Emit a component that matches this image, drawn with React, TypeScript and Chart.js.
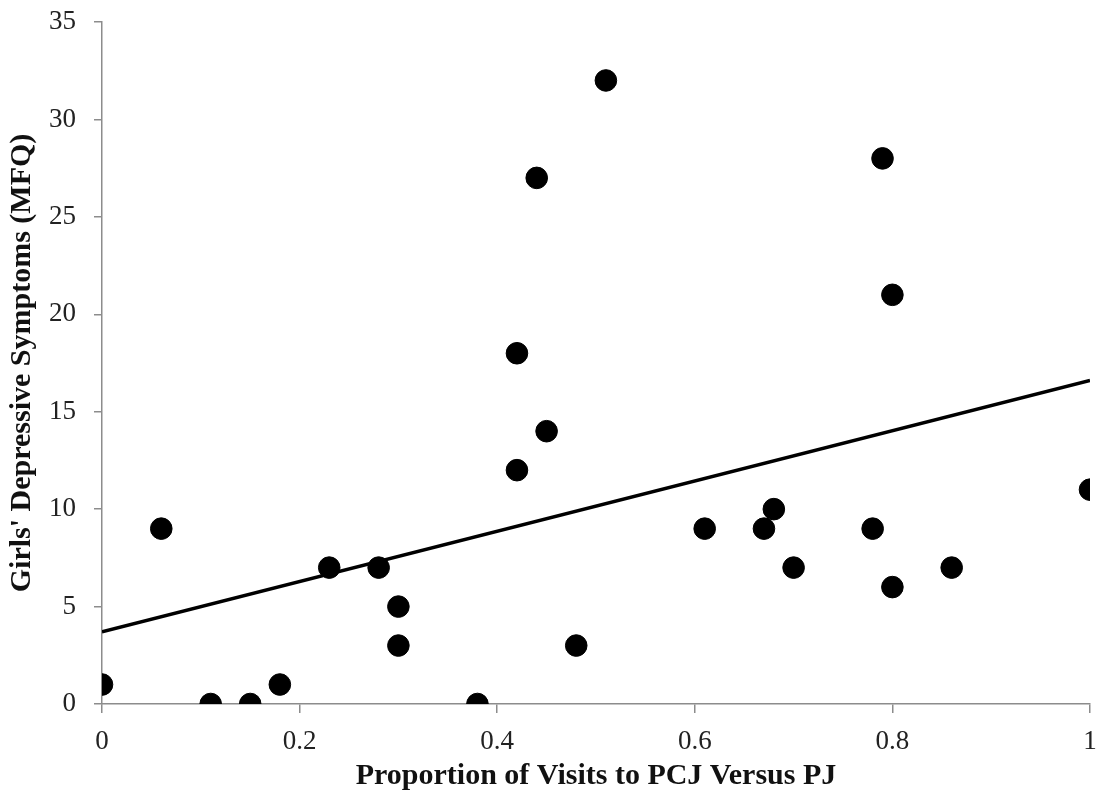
import React, { useEffect, useRef } from "react";
import { Chart, registerables } from "chart.js";

Chart.register(...registerables);

const xValues = [0, 0.06, 0.11, 0.15, 0.18, 0.23, 0.28, 0.3, 0.3, 0.38, 0.42, 0.42, 0.44, 0.45, 0.48, 0.51, 0.61, 0.67, 0.68, 0.7, 0.78, 0.79, 0.8, 0.8, 0.86, 1];
const yValues = [1, 9, 0, 0, 1, 7, 7, 5, 3, 0, 18, 12, 27, 14, 3, 32, 9, 9, 10, 7, 9, 28, 21, 6, 7, 11];
const trendX = [0, 1];
const trendY = [3.7, 16.6];
const xTicks = [0, 0.2, 0.4, 0.6, 0.8, 1];
const yTicks = [0, 5, 10, 15, 20, 25, 30, 35];
const xTitle = "Proportion of Visits to PCJ Versus PJ";
const yTitle = "Girls' Depressive Symptoms (MFQ)";

export default function App() {
  const ref = useRef<HTMLCanvasElement>(null);
  useEffect(() => {
    document.body.style.margin = "0";
    const ctx = ref.current!;
    const axisColor = "#8c8c8c";
    const serif = "'Liberation Serif', 'Times New Roman', serif";
    const chart = new Chart(ctx, {
      type: "scatter",
      data: {
        datasets: [
          {
            type: "line",
            data: trendX.map((x, i) => ({ x, y: trendY[i] })),
            borderColor: "#000",
            borderWidth: 3.5,
            pointRadius: 0,
            fill: false,
          } as any,
          {
            data: xValues.map((x, i) => ({ x, y: yValues[i] })),
            backgroundColor: "#000",
            borderColor: "#000",
            pointRadius: 10.8,
            pointHoverRadius: 10.8,
          },
        ],
      },
      options: {
        animation: false,
        responsive: false,
        layout: { padding: { top: 22, right: 20, left: 0, bottom: 0 } },
        plugins: { legend: { display: false }, tooltip: { enabled: false } },
        scales: {
          x: {
            type: "linear",
            min: 0,
            max: 1,
            afterBuildTicks: (s: any) => {
              s.ticks = xTicks.map((v) => ({ value: v }));
            },
            afterFit: (s: any) => {
              s.height = 94;
              s.paddingLeft = 0;
              s.paddingRight = 0;
            },
            ticks: {
              color: "#222",
              font: { family: serif, size: 27 },
              padding: 13,
              maxRotation: 0,
              callback: (v: any) => String(v),
            },
            grid: { drawOnChartArea: false, drawTicks: true, tickLength: 9, color: axisColor, lineWidth: 1.5 },
            border: { color: axisColor, width: 1.5 },
            title: {
              display: true,
              text: xTitle,
              color: "#111",
              font: { family: serif, size: 30, weight: "bold" },
              padding: { top: 0, bottom: 4 },
            },
          },
          y: {
            type: "linear",
            min: 0,
            max: 35,
            afterBuildTicks: (s: any) => {
              s.ticks = yTicks.map((v) => ({ value: v }));
            },
            afterFit: (s: any) => {
              s.width = 102;
              s.paddingTop = 0;
              s.paddingBottom = 0;
            },
            ticks: {
              color: "#222",
              font: { family: serif, size: 27 },
              padding: 18,
            },
            grid: { drawOnChartArea: false, drawTicks: true, tickLength: 8, color: axisColor, lineWidth: 1.5 },
            border: { color: axisColor, width: 1.5 },
            title: {
              display: true,
              text: yTitle,
              color: "#111",
              font: { family: serif, size: 30, weight: "bold" },
              padding: { top: 4, bottom: 0 },
            },
          },
        },
      },
    });
    return () => chart.destroy();
  }, []);
  return (
    <div style={{ width: 1110, height: 798, background: "#fff" }}>
      <canvas ref={ref} width={1110} height={798} />
    </div>
  );
}
